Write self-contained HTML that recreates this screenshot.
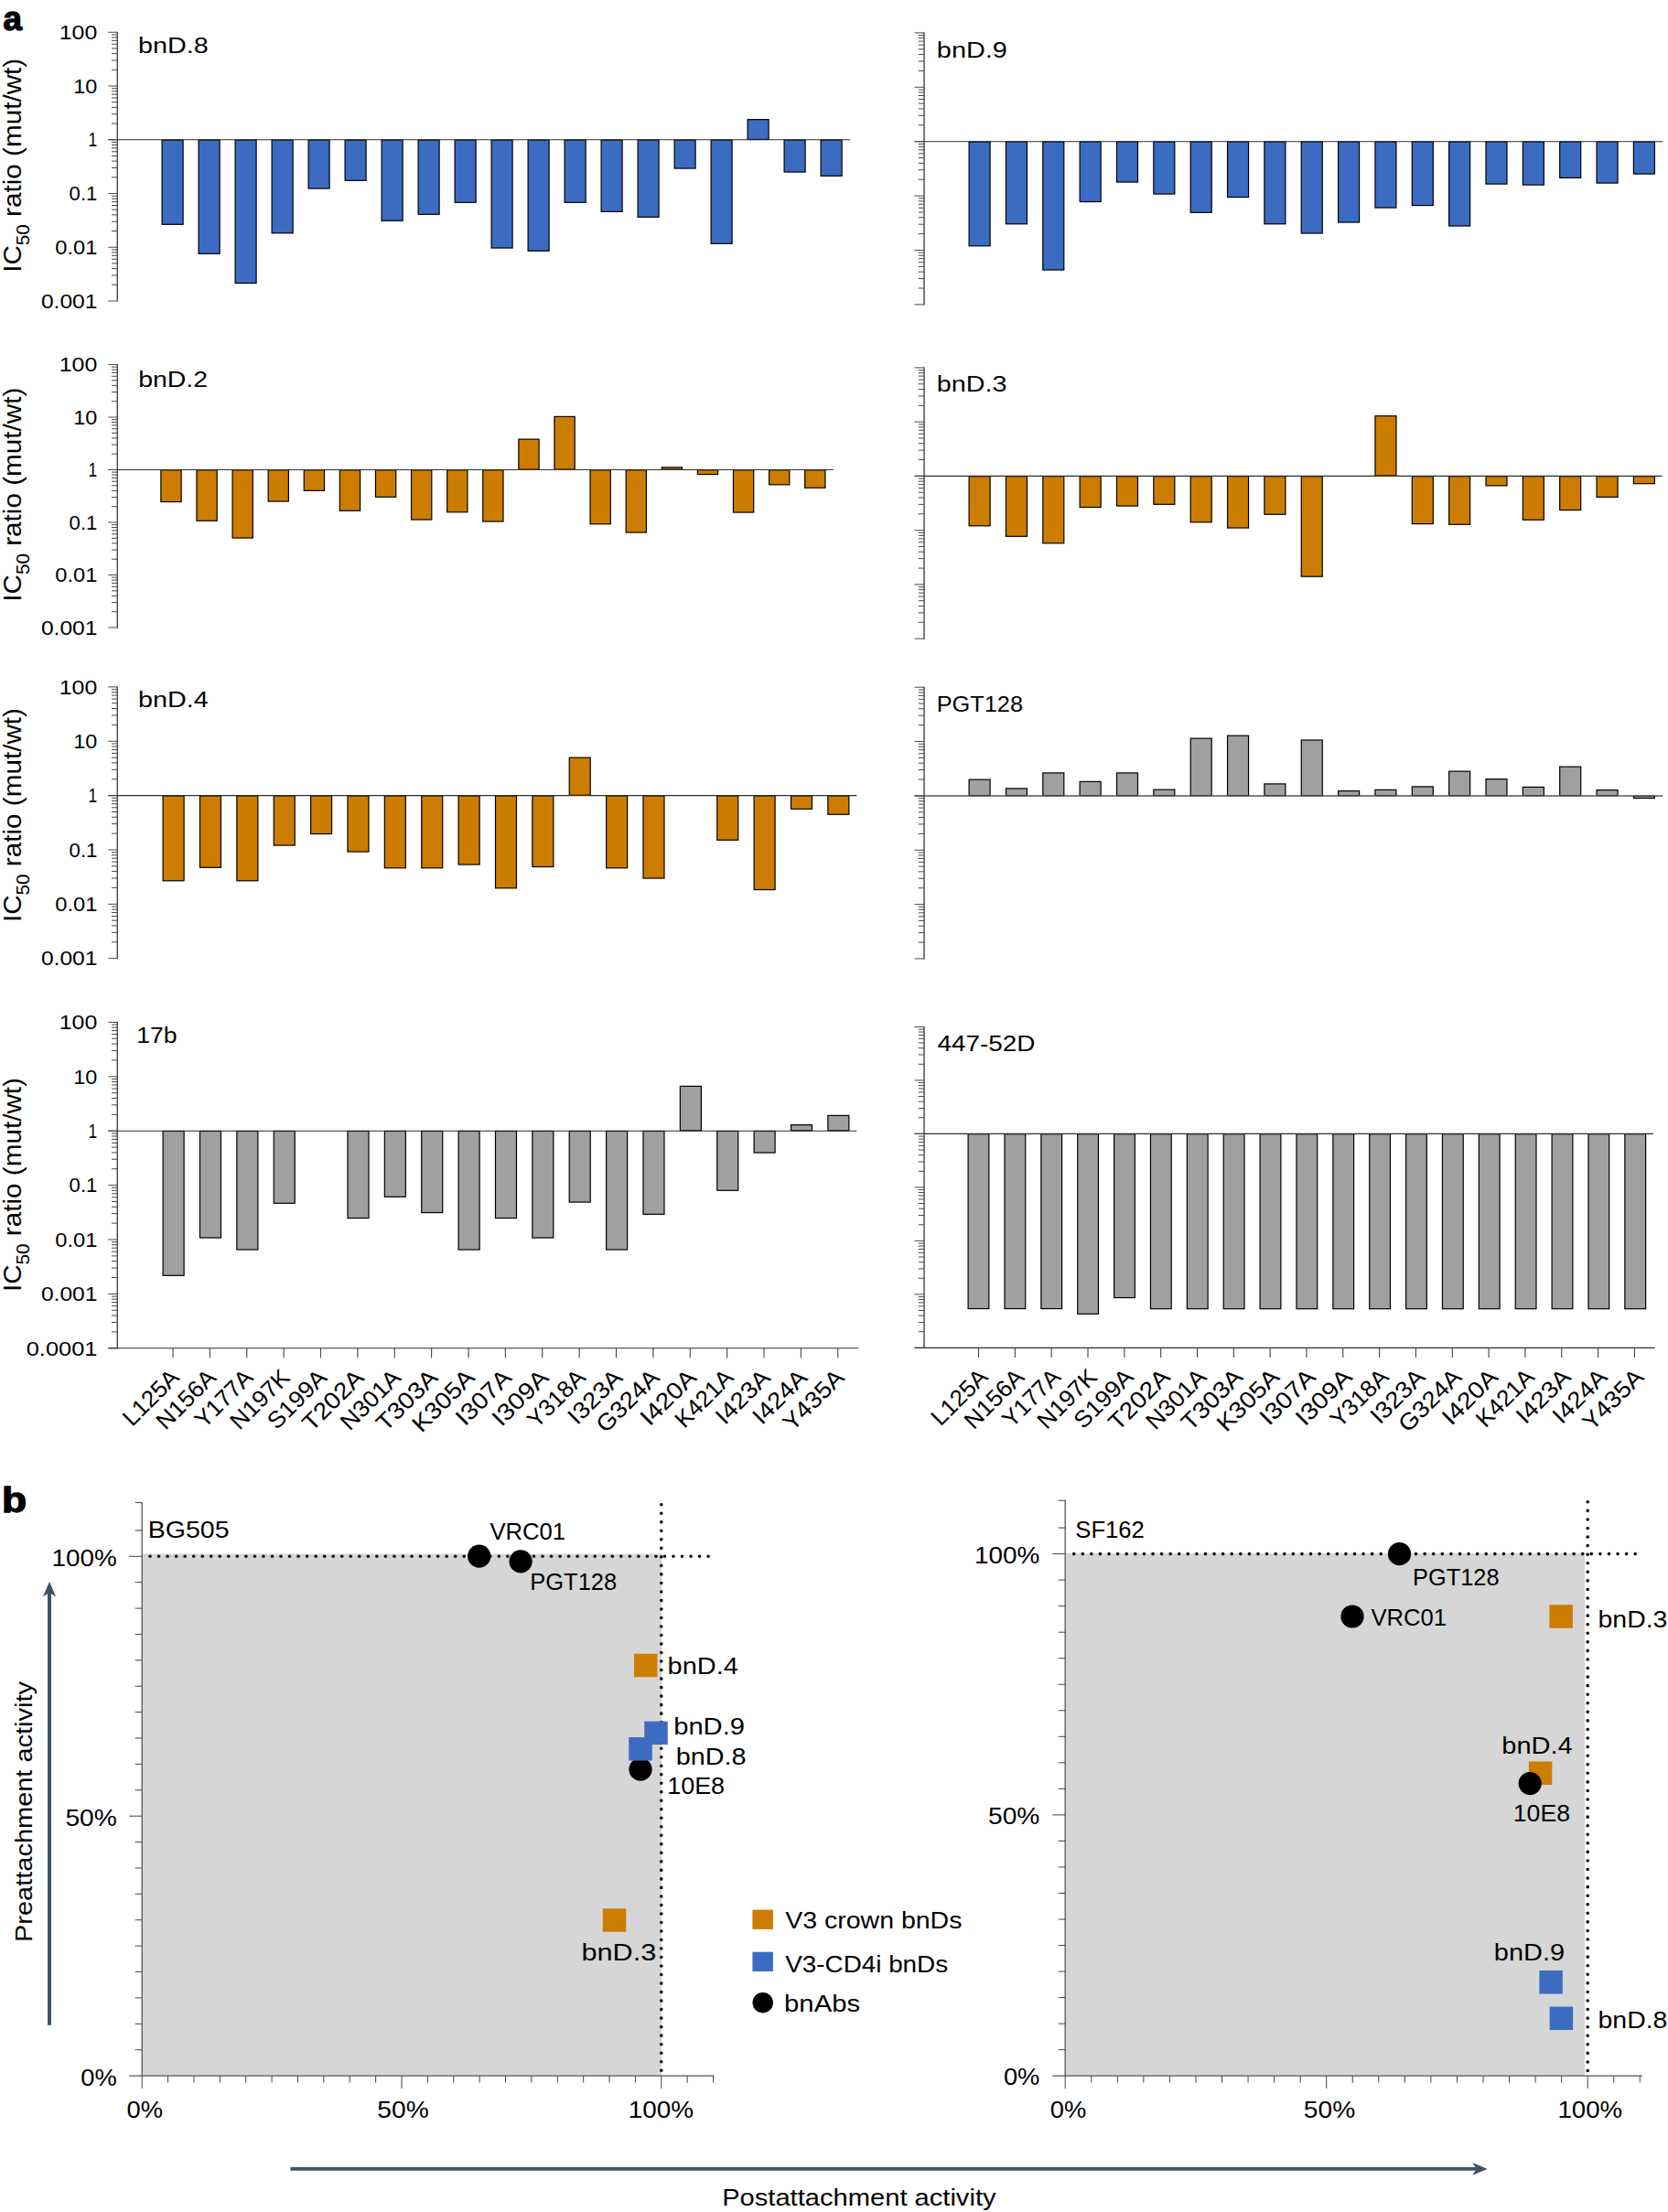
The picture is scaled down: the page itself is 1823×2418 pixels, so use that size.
<!DOCTYPE html>
<html lang="en">
<head>
<meta charset="utf-8">
<title>Figure: IC50 ratio and attachment activity</title>
<style>
html,body{margin:0;padding:0;background:#fff;}
body{width:1823px;height:2418px;}
svg{display:block;}
svg text{font-family:'Liberation Sans', sans-serif;fill:#000;}
</style>
</head>
<body>
<svg width="1823" height="2418" viewBox="0 0 1823 2418">
<rect width="1823" height="2418" fill="#fff"/>
<g id="panel-a">
<g fill="#3c6cc1" stroke="#000" stroke-width="1.2">
<rect x="177.1" y="153.05" width="23" height="92.25"/>
<rect x="217.1" y="153.05" width="23" height="124.25"/>
<rect x="257.1" y="153.05" width="23" height="156.5"/>
<rect x="297.1" y="153.05" width="23" height="101.75"/>
<rect x="337.1" y="153.05" width="23" height="53"/>
<rect x="377.1" y="153.05" width="23" height="44.25"/>
<rect x="417.1" y="153.05" width="23" height="88.25"/>
<rect x="457.1" y="153.05" width="23" height="81.25"/>
<rect x="497.1" y="153.05" width="23" height="68.25"/>
<rect x="537.1" y="153.05" width="23" height="118"/>
<rect x="577.1" y="153.05" width="23" height="121.25"/>
<rect x="617.1" y="153.05" width="23" height="68.25"/>
<rect x="657.1" y="153.05" width="23" height="78.25"/>
<rect x="697.1" y="153.05" width="23" height="84.25"/>
<rect x="737.1" y="153.05" width="23" height="31"/>
<rect x="777.1" y="153.05" width="23" height="113.25"/>
<rect x="817.1" y="130.65" width="23" height="21.8"/>
<rect x="857.1" y="153.05" width="23" height="35"/>
<rect x="897.1" y="153.05" width="23" height="39.25"/>
</g>
<line x1="118.25" y1="152.75" x2="929" y2="152.75" stroke="#2e2e2e" stroke-width="1.15"/>
<line x1="128.25" y1="34.75" x2="128.25" y2="329.5" stroke="#2e2e2e" stroke-width="1.25"/>
<path d="M118.25 329H128.25M122 311.31H128.25M122 300.97H128.25M122 293.63H128.25M122 287.94H128.25M122 283.28H128.25M122 279.35H128.25M122 275.94H128.25M122 272.94H128.25M118.25 270.25H128.25M122 252.56H128.25M122 242.22H128.25M122 234.88H128.25M122 229.19H128.25M122 224.53H128.25M122 220.6H128.25M122 217.19H128.25M122 214.19H128.25M118.25 211.5H128.25M122 193.81H128.25M122 183.47H128.25M122 176.13H128.25M122 170.44H128.25M122 165.78H128.25M122 161.85H128.25M122 158.44H128.25M122 155.44H128.25M118.25 152.75H128.25M122 135.06H128.25M122 124.72H128.25M122 117.38H128.25M122 111.69H128.25M122 107.03H128.25M122 103.1H128.25M122 99.69H128.25M122 96.69H128.25M118.25 94H128.25M122 76.31H128.25M122 65.97H128.25M122 58.63H128.25M122 52.94H128.25M122 48.28H128.25M122 44.35H128.25M122 40.94H128.25M122 37.94H128.25M118.25 35.25H128.25" stroke="#484848" stroke-width="1" fill="none"/>
<text x="44.92" y="336.7" font-size="21.4" textLength="61.55" lengthAdjust="spacingAndGlyphs">0.001</text>
<text x="60.35" y="277.95" font-size="21.4" textLength="46.04" lengthAdjust="spacingAndGlyphs">0.01</text>
<text x="75.62" y="219.2" font-size="21.4" textLength="30.68" lengthAdjust="spacingAndGlyphs">0.1</text>
<text x="96.39" y="160.45" font-size="21.4" textLength="9.72" lengthAdjust="spacingAndGlyphs">1</text>
<text x="80.15" y="101.7" font-size="21.4" textLength="26.03" lengthAdjust="spacingAndGlyphs">10</text>
<text x="64.73" y="42.95" font-size="21.4" textLength="41.53" lengthAdjust="spacingAndGlyphs">100</text>
<text x="151.13" y="57.5" font-size="24.4" textLength="76.62" lengthAdjust="spacingAndGlyphs">bnD.8</text>
<g fill="#3c6cc1" stroke="#000" stroke-width="1.2">
<rect x="1059.1" y="155" width="23" height="113.8"/>
<rect x="1099.45" y="155" width="23" height="89.8"/>
<rect x="1139.8" y="155" width="23" height="140.05"/>
<rect x="1180.15" y="155" width="23" height="65.55"/>
<rect x="1220.5" y="155" width="23" height="44.05"/>
<rect x="1260.85" y="155" width="23" height="57.05"/>
<rect x="1301.2" y="155" width="23" height="77.3"/>
<rect x="1341.55" y="155" width="23" height="60.55"/>
<rect x="1381.9" y="155" width="23" height="89.8"/>
<rect x="1422.25" y="155" width="23" height="100"/>
<rect x="1462.6" y="155" width="23" height="88"/>
<rect x="1502.95" y="155" width="23" height="72.05"/>
<rect x="1543.3" y="155" width="23" height="69.55"/>
<rect x="1583.65" y="155" width="23" height="92"/>
<rect x="1624" y="155" width="23" height="46.1"/>
<rect x="1664.35" y="155" width="23" height="47.1"/>
<rect x="1704.7" y="155" width="23" height="39.4"/>
<rect x="1745.05" y="155" width="23" height="45.1"/>
<rect x="1785.4" y="155" width="23" height="35.1"/>
</g>
<line x1="999.5" y1="154.7" x2="1817.3" y2="154.7" stroke="#2e2e2e" stroke-width="1.15"/>
<line x1="1010" y1="35.4" x2="1010" y2="333.4" stroke="#2e2e2e" stroke-width="1.25"/>
<path d="M999.5 332.9H1010M1003.75 315.02H1010M1003.75 304.56H1010M1003.75 297.14H1010M1003.75 291.38H1010M1003.75 286.68H1010M1003.75 282.7H1010M1003.75 279.26H1010M1003.75 276.22H1010M999.5 273.5H1010M1003.75 255.62H1010M1003.75 245.16H1010M1003.75 237.74H1010M1003.75 231.98H1010M1003.75 227.28H1010M1003.75 223.3H1010M1003.75 219.86H1010M1003.75 216.82H1010M999.5 214.1H1010M1003.75 196.22H1010M1003.75 185.76H1010M1003.75 178.34H1010M1003.75 172.58H1010M1003.75 167.88H1010M1003.75 163.9H1010M1003.75 160.46H1010M1003.75 157.42H1010M999.5 154.7H1010M1003.75 136.82H1010M1003.75 126.36H1010M1003.75 118.94H1010M1003.75 113.18H1010M1003.75 108.48H1010M1003.75 104.5H1010M1003.75 101.06H1010M1003.75 98.02H1010M999.5 95.3H1010M1003.75 77.42H1010M1003.75 66.96H1010M1003.75 59.54H1010M1003.75 53.78H1010M1003.75 49.08H1010M1003.75 45.1H1010M1003.75 41.66H1010M1003.75 38.62H1010M999.5 35.9H1010" stroke="#484848" stroke-width="1" fill="none"/>
<text x="1023.87" y="62.5" font-size="24.4" textLength="77.03" lengthAdjust="spacingAndGlyphs">bnD.9</text>
<g fill="#cc7d00" stroke="#000" stroke-width="1.2">
<rect x="175.85" y="513.8" width="22.25" height="34.75"/>
<rect x="214.95" y="513.8" width="22.25" height="55.5"/>
<rect x="254.05" y="513.8" width="22.25" height="74.25"/>
<rect x="293.15" y="513.8" width="22.25" height="34.25"/>
<rect x="332.25" y="513.8" width="22.25" height="22.5"/>
<rect x="371.35" y="513.8" width="22.25" height="44.5"/>
<rect x="410.45" y="513.8" width="22.25" height="29.5"/>
<rect x="449.55" y="513.8" width="22.25" height="54.25"/>
<rect x="488.65" y="513.8" width="22.25" height="46"/>
<rect x="527.75" y="513.8" width="22.25" height="56.25"/>
<rect x="566.85" y="480.15" width="22.25" height="33.05"/>
<rect x="605.95" y="455.4" width="22.25" height="57.8"/>
<rect x="645.05" y="513.8" width="22.25" height="59"/>
<rect x="684.15" y="513.8" width="22.25" height="68.25"/>
<rect x="723.25" y="510.9" width="22.25" height="2.3"/>
<rect x="762.35" y="513.8" width="22.25" height="4.75"/>
<rect x="801.45" y="513.8" width="22.25" height="46.25"/>
<rect x="840.55" y="513.8" width="22.25" height="16"/>
<rect x="879.65" y="513.8" width="22.25" height="19.5"/>
</g>
<line x1="118.25" y1="513.5" x2="910.75" y2="513.5" stroke="#2e2e2e" stroke-width="1.15"/>
<line x1="128.25" y1="398" x2="128.25" y2="686.5" stroke="#2e2e2e" stroke-width="1.25"/>
<path d="M118.25 686H128.25M122 668.69H128.25M122 658.57H128.25M122 651.38H128.25M122 645.81H128.25M122 641.26H128.25M122 637.41H128.25M122 634.07H128.25M122 631.13H128.25M118.25 628.5H128.25M122 611.19H128.25M122 601.07H128.25M122 593.88H128.25M122 588.31H128.25M122 583.76H128.25M122 579.91H128.25M122 576.57H128.25M122 573.63H128.25M118.25 571H128.25M122 553.69H128.25M122 543.57H128.25M122 536.38H128.25M122 530.81H128.25M122 526.26H128.25M122 522.41H128.25M122 519.07H128.25M122 516.13H128.25M118.25 513.5H128.25M122 496.19H128.25M122 486.07H128.25M122 478.88H128.25M122 473.31H128.25M122 468.76H128.25M122 464.91H128.25M122 461.57H128.25M122 458.63H128.25M118.25 456H128.25M122 438.69H128.25M122 428.57H128.25M122 421.38H128.25M122 415.81H128.25M122 411.26H128.25M122 407.41H128.25M122 404.07H128.25M122 401.13H128.25M118.25 398.5H128.25" stroke="#484848" stroke-width="1" fill="none"/>
<text x="44.92" y="693.7" font-size="21.4" textLength="61.55" lengthAdjust="spacingAndGlyphs">0.001</text>
<text x="60.35" y="636.2" font-size="21.4" textLength="46.04" lengthAdjust="spacingAndGlyphs">0.01</text>
<text x="75.62" y="578.7" font-size="21.4" textLength="30.68" lengthAdjust="spacingAndGlyphs">0.1</text>
<text x="96.39" y="521.2" font-size="21.4" textLength="9.72" lengthAdjust="spacingAndGlyphs">1</text>
<text x="80.15" y="463.7" font-size="21.4" textLength="26.03" lengthAdjust="spacingAndGlyphs">10</text>
<text x="64.73" y="406.2" font-size="21.4" textLength="41.53" lengthAdjust="spacingAndGlyphs">100</text>
<text x="151.15" y="422.5" font-size="24.4" textLength="75.87" lengthAdjust="spacingAndGlyphs">bnD.2</text>
<g fill="#cc7d00" stroke="#000" stroke-width="1.2">
<rect x="1059.1" y="520.7" width="23" height="54.1"/>
<rect x="1099.45" y="520.7" width="23" height="65.6"/>
<rect x="1139.8" y="520.7" width="23" height="73.1"/>
<rect x="1180.15" y="520.7" width="23" height="33.85"/>
<rect x="1220.5" y="520.7" width="23" height="32.35"/>
<rect x="1260.85" y="520.7" width="23" height="30.6"/>
<rect x="1301.2" y="520.7" width="23" height="50.1"/>
<rect x="1341.55" y="520.7" width="23" height="56.35"/>
<rect x="1381.9" y="520.7" width="23" height="41.6"/>
<rect x="1422.25" y="520.7" width="23" height="109.5"/>
<rect x="1502.95" y="454.7" width="23" height="65.4"/>
<rect x="1543.3" y="520.7" width="23" height="51.9"/>
<rect x="1583.65" y="520.7" width="23" height="52.6"/>
<rect x="1624" y="520.7" width="23" height="10.2"/>
<rect x="1664.35" y="520.7" width="23" height="47.6"/>
<rect x="1704.7" y="520.7" width="23" height="36.9"/>
<rect x="1745.05" y="520.7" width="23" height="22.7"/>
<rect x="1785.4" y="520.7" width="23" height="8"/>
</g>
<line x1="999.5" y1="520.4" x2="1816.5" y2="520.4" stroke="#2e2e2e" stroke-width="1.15"/>
<line x1="1010" y1="401.4" x2="1010" y2="698.65" stroke="#2e2e2e" stroke-width="1.25"/>
<path d="M999.5 698.15H1010M1003.75 680.31H1010M1003.75 669.88H1010M1003.75 662.48H1010M1003.75 656.74H1010M1003.75 652.04H1010M1003.75 648.08H1010M1003.75 644.64H1010M1003.75 641.61H1010M999.5 638.9H1010M1003.75 621.06H1010M1003.75 610.63H1010M1003.75 603.23H1010M1003.75 597.49H1010M1003.75 592.79H1010M1003.75 588.83H1010M1003.75 585.39H1010M1003.75 582.36H1010M999.5 579.65H1010M1003.75 561.81H1010M1003.75 551.38H1010M1003.75 543.98H1010M1003.75 538.24H1010M1003.75 533.54H1010M1003.75 529.58H1010M1003.75 526.14H1010M1003.75 523.11H1010M999.5 520.4H1010M1003.75 502.56H1010M1003.75 492.13H1010M1003.75 484.73H1010M1003.75 478.99H1010M1003.75 474.29H1010M1003.75 470.33H1010M1003.75 466.89H1010M1003.75 463.86H1010M999.5 461.15H1010M1003.75 443.31H1010M1003.75 432.88H1010M1003.75 425.48H1010M1003.75 419.74H1010M1003.75 415.04H1010M1003.75 411.08H1010M1003.75 407.64H1010M1003.75 404.61H1010M999.5 401.9H1010" stroke="#484848" stroke-width="1" fill="none"/>
<text x="1023.88" y="428" font-size="24.4" textLength="76.62" lengthAdjust="spacingAndGlyphs">bnD.3</text>
<g fill="#cc7d00" stroke="#000" stroke-width="1.2">
<rect x="178.1" y="869.9" width="23" height="92.9"/>
<rect x="218.47" y="869.9" width="23" height="78.4"/>
<rect x="258.85" y="869.9" width="23" height="92.9"/>
<rect x="299.23" y="869.9" width="23" height="54.15"/>
<rect x="339.6" y="869.9" width="23" height="41.65"/>
<rect x="379.98" y="869.9" width="23" height="61.15"/>
<rect x="420.35" y="869.9" width="23" height="78.9"/>
<rect x="460.73" y="869.9" width="23" height="78.9"/>
<rect x="501.1" y="869.9" width="23" height="75.15"/>
<rect x="541.48" y="869.9" width="23" height="100.9"/>
<rect x="581.85" y="869.9" width="23" height="77.65"/>
<rect x="622.23" y="828.15" width="23" height="41.15"/>
<rect x="662.6" y="869.9" width="23" height="78.9"/>
<rect x="702.98" y="869.9" width="23" height="90.15"/>
<rect x="783.73" y="869.9" width="23" height="48.4"/>
<rect x="824.1" y="869.9" width="23" height="102.65"/>
<rect x="864.48" y="869.9" width="23" height="14.4"/>
<rect x="904.85" y="869.9" width="23" height="20.4"/>
</g>
<line x1="118.25" y1="869.6" x2="936.25" y2="869.6" stroke="#2e2e2e" stroke-width="1.15"/>
<line x1="128.25" y1="750.4" x2="128.25" y2="1048.15" stroke="#2e2e2e" stroke-width="1.25"/>
<path d="M118.25 1047.65H128.25M122 1029.78H128.25M122 1019.33H128.25M122 1011.92H128.25M122 1006.17H128.25M122 1001.47H128.25M122 997.49H128.25M122 994.05H128.25M122 991.02H128.25M118.25 988.3H128.25M122 970.43H128.25M122 959.98H128.25M122 952.57H128.25M122 946.82H128.25M122 942.12H128.25M122 938.14H128.25M122 934.7H128.25M122 931.67H128.25M118.25 928.95H128.25M122 911.08H128.25M122 900.63H128.25M122 893.22H128.25M122 887.47H128.25M122 882.77H128.25M122 878.79H128.25M122 875.35H128.25M122 872.32H128.25M118.25 869.6H128.25M122 851.73H128.25M122 841.28H128.25M122 833.87H128.25M122 828.12H128.25M122 823.42H128.25M122 819.44H128.25M122 816H128.25M122 812.97H128.25M118.25 810.25H128.25M122 792.38H128.25M122 781.93H128.25M122 774.52H128.25M122 768.77H128.25M122 764.07H128.25M122 760.09H128.25M122 756.65H128.25M122 753.62H128.25M118.25 750.9H128.25" stroke="#484848" stroke-width="1" fill="none"/>
<text x="44.92" y="1055.35" font-size="21.4" textLength="61.55" lengthAdjust="spacingAndGlyphs">0.001</text>
<text x="60.35" y="996" font-size="21.4" textLength="46.04" lengthAdjust="spacingAndGlyphs">0.01</text>
<text x="75.62" y="936.65" font-size="21.4" textLength="30.68" lengthAdjust="spacingAndGlyphs">0.1</text>
<text x="96.39" y="877.3" font-size="21.4" textLength="9.72" lengthAdjust="spacingAndGlyphs">1</text>
<text x="80.15" y="817.95" font-size="21.4" textLength="26.03" lengthAdjust="spacingAndGlyphs">10</text>
<text x="64.73" y="758.6" font-size="21.4" textLength="41.53" lengthAdjust="spacingAndGlyphs">100</text>
<text x="151.13" y="773" font-size="24.4" textLength="76.58" lengthAdjust="spacingAndGlyphs">bnD.4</text>
<g fill="#a0a0a0" stroke="#000" stroke-width="1.2">
<rect x="1059.1" y="852.15" width="23" height="17.45"/>
<rect x="1099.45" y="861.9" width="23" height="7.7"/>
<rect x="1139.8" y="844.9" width="23" height="24.7"/>
<rect x="1180.15" y="854.4" width="23" height="15.2"/>
<rect x="1220.5" y="844.9" width="23" height="24.7"/>
<rect x="1260.85" y="863.15" width="23" height="6.45"/>
<rect x="1301.2" y="807.15" width="23" height="62.45"/>
<rect x="1341.55" y="804.15" width="23" height="65.45"/>
<rect x="1381.9" y="856.9" width="23" height="12.7"/>
<rect x="1422.25" y="809" width="23" height="60.6"/>
<rect x="1462.6" y="864.6" width="23" height="5"/>
<rect x="1502.95" y="863.4" width="23" height="6.2"/>
<rect x="1543.3" y="859.9" width="23" height="9.7"/>
<rect x="1583.65" y="843.15" width="23" height="26.45"/>
<rect x="1624" y="851.6" width="23" height="18"/>
<rect x="1664.35" y="860.4" width="23" height="9.2"/>
<rect x="1704.7" y="838.15" width="23" height="31.45"/>
<rect x="1745.05" y="863.6" width="23" height="6"/>
<rect x="1785.4" y="870.2" width="23" height="2.3"/>
</g>
<line x1="999.5" y1="869.9" x2="1817.3" y2="869.9" stroke="#555" stroke-width="1.55"/>
<line x1="1010" y1="750.7" x2="1010" y2="1048.45" stroke="#2e2e2e" stroke-width="1.25"/>
<path d="M999.5 1047.95H1010M1003.75 1030.08H1010M1003.75 1019.63H1010M1003.75 1012.22H1010M1003.75 1006.47H1010M1003.75 1001.77H1010M1003.75 997.79H1010M1003.75 994.35H1010M1003.75 991.32H1010M999.5 988.6H1010M1003.75 970.73H1010M1003.75 960.28H1010M1003.75 952.87H1010M1003.75 947.12H1010M1003.75 942.42H1010M1003.75 938.44H1010M1003.75 935H1010M1003.75 931.97H1010M999.5 929.25H1010M1003.75 911.38H1010M1003.75 900.93H1010M1003.75 893.52H1010M1003.75 887.77H1010M1003.75 883.07H1010M1003.75 879.09H1010M1003.75 875.65H1010M1003.75 872.62H1010M999.5 869.9H1010M1003.75 852.03H1010M1003.75 841.58H1010M1003.75 834.17H1010M1003.75 828.42H1010M1003.75 823.72H1010M1003.75 819.74H1010M1003.75 816.3H1010M1003.75 813.27H1010M999.5 810.55H1010M1003.75 792.68H1010M1003.75 782.23H1010M1003.75 774.82H1010M1003.75 769.07H1010M1003.75 764.37H1010M1003.75 760.39H1010M1003.75 756.95H1010M1003.75 753.92H1010M999.5 751.2H1010" stroke="#484848" stroke-width="1" fill="none"/>
<text x="1023.73" y="778" font-size="24.4" textLength="94.27" lengthAdjust="spacingAndGlyphs">PGT128</text>
<g fill="#a0a0a0" stroke="#000" stroke-width="1.2">
<rect x="178.1" y="1236.5" width="23" height="157.8"/>
<rect x="218.47" y="1236.5" width="23" height="116.55"/>
<rect x="258.85" y="1236.5" width="23" height="129.55"/>
<rect x="299.23" y="1236.5" width="23" height="78.8"/>
<rect x="379.98" y="1236.5" width="23" height="95.05"/>
<rect x="420.35" y="1236.5" width="23" height="71.8"/>
<rect x="460.73" y="1236.5" width="23" height="89.05"/>
<rect x="501.1" y="1236.5" width="23" height="129.55"/>
<rect x="541.48" y="1236.5" width="23" height="95.05"/>
<rect x="581.85" y="1236.5" width="23" height="116.55"/>
<rect x="622.23" y="1236.5" width="23" height="77.55"/>
<rect x="662.6" y="1236.5" width="23" height="129.55"/>
<rect x="702.98" y="1236.5" width="23" height="90.8"/>
<rect x="743.35" y="1187.4" width="23" height="48.5"/>
<rect x="783.73" y="1236.5" width="23" height="64.8"/>
<rect x="824.1" y="1236.5" width="23" height="23.55"/>
<rect x="864.48" y="1229.65" width="23" height="6.25"/>
<rect x="904.85" y="1219.4" width="23" height="16.5"/>
</g>
<line x1="118.25" y1="1236.2" x2="936.25" y2="1236.2" stroke="#2e2e2e" stroke-width="1.15"/>
<line x1="128.25" y1="1116.9" x2="128.25" y2="1474.3" stroke="#2e2e2e" stroke-width="1.25"/>
<path d="M118.25 1473.8H128.25M122 1455.92H128.25M122 1445.46H128.25M122 1438.04H128.25M122 1432.28H128.25M122 1427.58H128.25M122 1423.6H128.25M122 1420.16H128.25M122 1417.12H128.25M118.25 1414.4H128.25M122 1396.52H128.25M122 1386.06H128.25M122 1378.64H128.25M122 1372.88H128.25M122 1368.18H128.25M122 1364.2H128.25M122 1360.76H128.25M122 1357.72H128.25M118.25 1355H128.25M122 1337.12H128.25M122 1326.66H128.25M122 1319.24H128.25M122 1313.48H128.25M122 1308.78H128.25M122 1304.8H128.25M122 1301.36H128.25M122 1298.32H128.25M118.25 1295.6H128.25M122 1277.72H128.25M122 1267.26H128.25M122 1259.84H128.25M122 1254.08H128.25M122 1249.38H128.25M122 1245.4H128.25M122 1241.96H128.25M122 1238.92H128.25M118.25 1236.2H128.25M122 1218.32H128.25M122 1207.86H128.25M122 1200.44H128.25M122 1194.68H128.25M122 1189.98H128.25M122 1186H128.25M122 1182.56H128.25M122 1179.52H128.25M118.25 1176.8H128.25M122 1158.92H128.25M122 1148.46H128.25M122 1141.04H128.25M122 1135.28H128.25M122 1130.58H128.25M122 1126.6H128.25M122 1123.16H128.25M122 1120.12H128.25M118.25 1117.4H128.25" stroke="#484848" stroke-width="1" fill="none"/>
<text x="28.78" y="1481.5" font-size="21.4" textLength="77.62" lengthAdjust="spacingAndGlyphs">0.0001</text>
<text x="44.92" y="1422.1" font-size="21.4" textLength="61.55" lengthAdjust="spacingAndGlyphs">0.001</text>
<text x="60.35" y="1362.7" font-size="21.4" textLength="46.04" lengthAdjust="spacingAndGlyphs">0.01</text>
<text x="75.62" y="1303.3" font-size="21.4" textLength="30.68" lengthAdjust="spacingAndGlyphs">0.1</text>
<text x="96.39" y="1243.9" font-size="21.4" textLength="9.72" lengthAdjust="spacingAndGlyphs">1</text>
<text x="80.15" y="1184.5" font-size="21.4" textLength="26.03" lengthAdjust="spacingAndGlyphs">10</text>
<text x="64.73" y="1125.1" font-size="21.4" textLength="41.53" lengthAdjust="spacingAndGlyphs">100</text>
<text x="149.25" y="1139.5" font-size="24.4" textLength="44.4" lengthAdjust="spacingAndGlyphs">17b</text>
<line x1="118.25" y1="1473.8" x2="938.25" y2="1473.8" stroke="#2e2e2e" stroke-width="1.1"/>
<path d="M189 1473.8V1484.3M229.38 1473.8V1484.3M269.75 1473.8V1484.3M310.12 1473.8V1484.3M350.5 1473.8V1484.3M390.88 1473.8V1484.3M431.25 1473.8V1484.3M471.62 1473.8V1484.3M512 1473.8V1484.3M552.38 1473.8V1484.3M592.75 1473.8V1484.3M633.12 1473.8V1484.3M673.5 1473.8V1484.3M713.88 1473.8V1484.3M754.25 1473.8V1484.3M794.62 1473.8V1484.3M835 1473.8V1484.3M875.38 1473.8V1484.3M915.75 1473.8V1484.3" stroke="#444" stroke-width="1.1" fill="none"/>
<g fill="#a0a0a0" stroke="#000" stroke-width="1.2">
<rect x="1058.1" y="1239.7" width="22.75" height="190.85"/>
<rect x="1097.97" y="1239.7" width="22.75" height="190.85"/>
<rect x="1137.85" y="1239.7" width="22.75" height="190.85"/>
<rect x="1177.72" y="1239.7" width="22.75" height="196.6"/>
<rect x="1217.6" y="1239.7" width="22.75" height="178.85"/>
<rect x="1257.47" y="1239.7" width="22.75" height="191"/>
<rect x="1297.35" y="1239.7" width="22.75" height="191"/>
<rect x="1337.22" y="1239.7" width="22.75" height="191"/>
<rect x="1377.1" y="1239.7" width="22.75" height="191"/>
<rect x="1416.97" y="1239.7" width="22.75" height="191"/>
<rect x="1456.85" y="1239.7" width="22.75" height="191"/>
<rect x="1496.72" y="1239.7" width="22.75" height="191"/>
<rect x="1536.6" y="1239.7" width="22.75" height="191"/>
<rect x="1576.47" y="1239.7" width="22.75" height="191"/>
<rect x="1616.35" y="1239.7" width="22.75" height="191"/>
<rect x="1656.22" y="1239.7" width="22.75" height="191"/>
<rect x="1696.1" y="1239.7" width="22.75" height="191"/>
<rect x="1735.97" y="1239.7" width="22.75" height="191"/>
<rect x="1775.85" y="1239.7" width="22.75" height="191"/>
</g>
<line x1="999.5" y1="1239.4" x2="1807" y2="1239.4" stroke="#2e2e2e" stroke-width="1.15"/>
<line x1="1010" y1="1121.9" x2="1010" y2="1473.9" stroke="#2e2e2e" stroke-width="1.25"/>
<path d="M999.5 1473.4H1010M1003.75 1455.79H1010M1003.75 1445.49H1010M1003.75 1438.18H1010M1003.75 1432.51H1010M1003.75 1427.88H1010M1003.75 1423.96H1010M1003.75 1420.57H1010M1003.75 1417.58H1010M999.5 1414.9H1010M1003.75 1397.29H1010M1003.75 1386.99H1010M1003.75 1379.68H1010M1003.75 1374.01H1010M1003.75 1369.38H1010M1003.75 1365.46H1010M1003.75 1362.07H1010M1003.75 1359.08H1010M999.5 1356.4H1010M1003.75 1338.79H1010M1003.75 1328.49H1010M1003.75 1321.18H1010M1003.75 1315.51H1010M1003.75 1310.88H1010M1003.75 1306.96H1010M1003.75 1303.57H1010M1003.75 1300.58H1010M999.5 1297.9H1010M1003.75 1280.29H1010M1003.75 1269.99H1010M1003.75 1262.68H1010M1003.75 1257.01H1010M1003.75 1252.38H1010M1003.75 1248.46H1010M1003.75 1245.07H1010M1003.75 1242.08H1010M999.5 1239.4H1010M1003.75 1221.79H1010M1003.75 1211.49H1010M1003.75 1204.18H1010M1003.75 1198.51H1010M1003.75 1193.88H1010M1003.75 1189.96H1010M1003.75 1186.57H1010M1003.75 1183.58H1010M999.5 1180.9H1010M1003.75 1163.29H1010M1003.75 1152.99H1010M1003.75 1145.68H1010M1003.75 1140.01H1010M1003.75 1135.38H1010M1003.75 1131.46H1010M1003.75 1128.07H1010M1003.75 1125.08H1010M999.5 1122.4H1010" stroke="#484848" stroke-width="1" fill="none"/>
<text x="1024.44" y="1149.25" font-size="24.4" textLength="106.84" lengthAdjust="spacingAndGlyphs">447-52D</text>
<line x1="999.5" y1="1473.4" x2="1808.5" y2="1473.4" stroke="#2e2e2e" stroke-width="1.1"/>
<path d="M1069.5 1473.4V1483.9M1109.33 1473.4V1483.9M1149.16 1473.4V1483.9M1188.99 1473.4V1483.9M1228.82 1473.4V1483.9M1268.65 1473.4V1483.9M1308.48 1473.4V1483.9M1348.31 1473.4V1483.9M1388.14 1473.4V1483.9M1427.97 1473.4V1483.9M1467.8 1473.4V1483.9M1507.63 1473.4V1483.9M1547.46 1473.4V1483.9M1587.29 1473.4V1483.9M1627.12 1473.4V1483.9M1666.95 1473.4V1483.9M1706.78 1473.4V1483.9M1746.61 1473.4V1483.9M1786.44 1473.4V1483.9" stroke="#444" stroke-width="1.1" fill="none"/>
<text transform="translate(197.3 1507.4) rotate(-45)" text-anchor="end" font-size="25.6" textLength="74.81" lengthAdjust="spacingAndGlyphs">L125A</text>
<text transform="translate(237.68 1507.4) rotate(-45)" text-anchor="end" font-size="25.6" textLength="80.06" lengthAdjust="spacingAndGlyphs">N156A</text>
<text transform="translate(278.05 1507.4) rotate(-45)" text-anchor="end" font-size="25.6" textLength="77.65" lengthAdjust="spacingAndGlyphs">Y177A</text>
<text transform="translate(318.43 1507.4) rotate(-45)" text-anchor="end" font-size="25.6" textLength="80.06" lengthAdjust="spacingAndGlyphs">N197K</text>
<text transform="translate(358.8 1507.4) rotate(-45)" text-anchor="end" font-size="25.6" textLength="79.65" lengthAdjust="spacingAndGlyphs">S199A</text>
<text transform="translate(399.18 1507.4) rotate(-45)" text-anchor="end" font-size="25.6" textLength="82.71" lengthAdjust="spacingAndGlyphs">T202A</text>
<text transform="translate(439.55 1507.4) rotate(-45)" text-anchor="end" font-size="25.6" textLength="81.06" lengthAdjust="spacingAndGlyphs">N301A</text>
<text transform="translate(479.93 1507.4) rotate(-45)" text-anchor="end" font-size="25.6" textLength="82.71" lengthAdjust="spacingAndGlyphs">T303A</text>
<text transform="translate(520.3 1507.4) rotate(-45)" text-anchor="end" font-size="25.6" textLength="84.15" lengthAdjust="spacingAndGlyphs">K305A</text>
<text transform="translate(560.67 1507.4) rotate(-45)" text-anchor="end" font-size="25.6" textLength="74.19" lengthAdjust="spacingAndGlyphs">I307A</text>
<text transform="translate(601.05 1507.4) rotate(-45)" text-anchor="end" font-size="25.6" textLength="75.19" lengthAdjust="spacingAndGlyphs">I309A</text>
<text transform="translate(641.42 1507.4) rotate(-45)" text-anchor="end" font-size="25.6" textLength="77.65" lengthAdjust="spacingAndGlyphs">Y318A</text>
<text transform="translate(681.8 1507.4) rotate(-45)" text-anchor="end" font-size="25.6" textLength="72.19" lengthAdjust="spacingAndGlyphs">I323A</text>
<text transform="translate(722.17 1507.4) rotate(-45)" text-anchor="end" font-size="25.6" textLength="84.99" lengthAdjust="spacingAndGlyphs">G324A</text>
<text transform="translate(762.55 1507.4) rotate(-45)" text-anchor="end" font-size="25.6" textLength="74.19" lengthAdjust="spacingAndGlyphs">I420A</text>
<text transform="translate(802.92 1507.4) rotate(-45)" text-anchor="end" font-size="25.6" textLength="77.65" lengthAdjust="spacingAndGlyphs">K421A</text>
<text transform="translate(843.3 1507.4) rotate(-45)" text-anchor="end" font-size="25.6" textLength="72.19" lengthAdjust="spacingAndGlyphs">I423A</text>
<text transform="translate(883.67 1507.4) rotate(-45)" text-anchor="end" font-size="25.6" textLength="72.19" lengthAdjust="spacingAndGlyphs">I424A</text>
<text transform="translate(924.05 1507.4) rotate(-45)" text-anchor="end" font-size="25.6" textLength="82.15" lengthAdjust="spacingAndGlyphs">Y435A</text>
<text transform="translate(1081 1506.8) rotate(-45)" text-anchor="end" font-size="25.6" textLength="74.81" lengthAdjust="spacingAndGlyphs">L125A</text>
<text transform="translate(1120.83 1506.8) rotate(-45)" text-anchor="end" font-size="25.6" textLength="80.06" lengthAdjust="spacingAndGlyphs">N156A</text>
<text transform="translate(1160.66 1506.8) rotate(-45)" text-anchor="end" font-size="25.6" textLength="77.65" lengthAdjust="spacingAndGlyphs">Y177A</text>
<text transform="translate(1200.49 1506.8) rotate(-45)" text-anchor="end" font-size="25.6" textLength="80.06" lengthAdjust="spacingAndGlyphs">N197K</text>
<text transform="translate(1240.32 1506.8) rotate(-45)" text-anchor="end" font-size="25.6" textLength="79.65" lengthAdjust="spacingAndGlyphs">S199A</text>
<text transform="translate(1280.15 1506.8) rotate(-45)" text-anchor="end" font-size="25.6" textLength="82.71" lengthAdjust="spacingAndGlyphs">T202A</text>
<text transform="translate(1319.98 1506.8) rotate(-45)" text-anchor="end" font-size="25.6" textLength="81.06" lengthAdjust="spacingAndGlyphs">N301A</text>
<text transform="translate(1359.81 1506.8) rotate(-45)" text-anchor="end" font-size="25.6" textLength="82.71" lengthAdjust="spacingAndGlyphs">T303A</text>
<text transform="translate(1399.64 1506.8) rotate(-45)" text-anchor="end" font-size="25.6" textLength="84.15" lengthAdjust="spacingAndGlyphs">K305A</text>
<text transform="translate(1439.47 1506.8) rotate(-45)" text-anchor="end" font-size="25.6" textLength="74.19" lengthAdjust="spacingAndGlyphs">I307A</text>
<text transform="translate(1479.3 1506.8) rotate(-45)" text-anchor="end" font-size="25.6" textLength="75.19" lengthAdjust="spacingAndGlyphs">I309A</text>
<text transform="translate(1519.13 1506.8) rotate(-45)" text-anchor="end" font-size="25.6" textLength="77.65" lengthAdjust="spacingAndGlyphs">Y318A</text>
<text transform="translate(1558.96 1506.8) rotate(-45)" text-anchor="end" font-size="25.6" textLength="72.19" lengthAdjust="spacingAndGlyphs">I323A</text>
<text transform="translate(1598.79 1506.8) rotate(-45)" text-anchor="end" font-size="25.6" textLength="84.99" lengthAdjust="spacingAndGlyphs">G324A</text>
<text transform="translate(1638.62 1506.8) rotate(-45)" text-anchor="end" font-size="25.6" textLength="74.19" lengthAdjust="spacingAndGlyphs">I420A</text>
<text transform="translate(1678.45 1506.8) rotate(-45)" text-anchor="end" font-size="25.6" textLength="77.65" lengthAdjust="spacingAndGlyphs">K421A</text>
<text transform="translate(1718.28 1506.8) rotate(-45)" text-anchor="end" font-size="25.6" textLength="72.19" lengthAdjust="spacingAndGlyphs">I423A</text>
<text transform="translate(1758.11 1506.8) rotate(-45)" text-anchor="end" font-size="25.6" textLength="72.19" lengthAdjust="spacingAndGlyphs">I424A</text>
<text transform="translate(1797.94 1506.8) rotate(-45)" text-anchor="end" font-size="25.6" textLength="82.15" lengthAdjust="spacingAndGlyphs">Y435A</text>
<text transform="translate(23 297.85) rotate(-90)" font-size="28" textLength="234.1" lengthAdjust="spacingAndGlyphs">IC<tspan font-size="19.5" dy="9">50</tspan><tspan dy="-9"> ratio (mut/wt)</tspan></text>
<text transform="translate(23 657.7) rotate(-90)" font-size="28" textLength="234.1" lengthAdjust="spacingAndGlyphs">IC<tspan font-size="19.5" dy="9">50</tspan><tspan dy="-9"> ratio (mut/wt)</tspan></text>
<text transform="translate(23 1008.1) rotate(-90)" font-size="28" textLength="234.1" lengthAdjust="spacingAndGlyphs">IC<tspan font-size="19.5" dy="9">50</tspan><tspan dy="-9"> ratio (mut/wt)</tspan></text>
<text transform="translate(23 1412.1) rotate(-90)" font-size="28" textLength="234.1" lengthAdjust="spacingAndGlyphs">IC<tspan font-size="19.5" dy="9">50</tspan><tspan dy="-9"> ratio (mut/wt)</tspan></text>
<text x="3.6" y="33.2" font-size="37" textLength="20.48" lengthAdjust="spacingAndGlyphs" font-weight="bold" stroke="#000" stroke-width="1.3" stroke-linejoin="round">a</text>
</g>
<g id="panel-b">
<text x="2.12" y="1652.6" font-size="39.5" textLength="27.1" lengthAdjust="spacingAndGlyphs" font-weight="bold" stroke="#000" stroke-width="1.3" stroke-linejoin="round">b</text>
<rect x="155.2" y="1698.5" width="567.8" height="570.6" fill="#d6d6d6"/>
<line x1="155.2" y1="1642.02" x2="155.2" y2="2269.6" stroke="#555" stroke-width="1.3"/>
<line x1="141.2" y1="2269.1" x2="780.5" y2="2269.1" stroke="#555" stroke-width="1.3"/>
<path d="M147.7 2240.71H155.2M147.7 2212.32H155.2M147.7 2183.93H155.2M147.7 2155.54H155.2M147.7 2127.15H155.2M147.7 2098.76H155.2M147.7 2070.37H155.2M147.7 2041.98H155.2M147.7 2013.59H155.2M141.2 1985.2H155.2M147.7 1956.81H155.2M147.7 1928.42H155.2M147.7 1900.03H155.2M147.7 1871.64H155.2M147.7 1843.25H155.2M147.7 1814.86H155.2M147.7 1786.47H155.2M147.7 1758.08H155.2M147.7 1729.69H155.2M141.2 1701.3H155.2M147.7 1672.91H155.2M147.7 1642.52H155.2M155.2 2269.1V2283.1M183.58 2269.1V2276.6M211.96 2269.1V2276.6M240.34 2269.1V2276.6M268.72 2269.1V2276.6M297.1 2269.1V2276.6M325.48 2269.1V2276.6M353.86 2269.1V2276.6M382.24 2269.1V2276.6M410.62 2269.1V2276.6M439 2269.1V2283.1M467.38 2269.1V2276.6M495.76 2269.1V2276.6M524.14 2269.1V2276.6M552.52 2269.1V2276.6M580.9 2269.1V2276.6M609.28 2269.1V2276.6M637.66 2269.1V2276.6M666.04 2269.1V2276.6M694.42 2269.1V2276.6M722.8 2269.1V2283.1M751.18 2269.1V2276.6M779.56 2269.1V2276.6" stroke="#444" stroke-width="1" fill="none"/>
<line x1="164" y1="1701.3" x2="774.12" y2="1701.3" stroke="#000" stroke-width="3.6" stroke-linecap="round" stroke-dasharray="0 9.5331"/>
<line x1="722.8" y1="1644.8" x2="722.8" y2="2263.23" stroke="#000" stroke-width="3.6" stroke-linecap="round" stroke-dasharray="0 9.5142"/>
<circle cx="523.7" cy="1701.2" r="12.6" fill="#000"/>
<circle cx="569.1" cy="1706.8" r="12.6" fill="#000"/>
<rect x="692.95" y="1807.75" width="25.5" height="25.5" fill="#cc7d00"/>
<circle cx="700" cy="1934.2" r="12.6" fill="#000"/>
<rect x="687.25" y="1899.05" width="25.5" height="25.5" fill="#3c6cc1"/>
<rect x="704.25" y="1881.65" width="25.5" height="25.5" fill="#3c6cc1"/>
<rect x="658.75" y="2086.25" width="25.5" height="25.5" fill="#cc7d00"/>
<text x="161.72" y="1681" font-size="25" textLength="88.82" lengthAdjust="spacingAndGlyphs">BG505</text>
<text x="535.47" y="1682.6" font-size="25" textLength="82.65" lengthAdjust="spacingAndGlyphs">VRC01</text>
<text x="579.37" y="1737.6" font-size="25" textLength="94.73" lengthAdjust="spacingAndGlyphs">PGT128</text>
<text x="729.52" y="1829.8" font-size="25" textLength="77.36" lengthAdjust="spacingAndGlyphs">bnD.4</text>
<text x="736.2" y="1895.8" font-size="25" textLength="77.81" lengthAdjust="spacingAndGlyphs">bnD.9</text>
<text x="738.83" y="1928.8" font-size="25" textLength="76.72" lengthAdjust="spacingAndGlyphs">bnD.8</text>
<text x="729.18" y="1961.2" font-size="25" textLength="62.91" lengthAdjust="spacingAndGlyphs">10E8</text>
<text x="635.4" y="2142.9" font-size="25" textLength="81.93" lengthAdjust="spacingAndGlyphs">bnD.3</text>
<text x="56.51" y="1711.9" font-size="25" textLength="71.2" lengthAdjust="spacingAndGlyphs">100%</text>
<text x="71.47" y="1995.8" font-size="25" textLength="56.35" lengthAdjust="spacingAndGlyphs">50%</text>
<text x="88.31" y="2279.7" font-size="25" textLength="39.46" lengthAdjust="spacingAndGlyphs">0%</text>
<text x="138.51" y="2315.3" font-size="25" textLength="39.46" lengthAdjust="spacingAndGlyphs">0%</text>
<text x="412.37" y="2315.3" font-size="25" textLength="56.35" lengthAdjust="spacingAndGlyphs">50%</text>
<text x="686.71" y="2315.3" font-size="25" textLength="71.2" lengthAdjust="spacingAndGlyphs">100%</text>
<rect x="822.4" y="2087.6" width="22.5" height="21.3" fill="#cc7d00"/>
<rect x="822.4" y="2133.7" width="22.5" height="21.3" fill="#3c6cc1"/>
<circle cx="833.7" cy="2189.2" r="11.2" fill="#000"/>
<text x="858.26" y="2107.5" font-size="25" textLength="193.17" lengthAdjust="spacingAndGlyphs">V3 crown bnDs</text>
<text x="858.26" y="2155.8" font-size="25" textLength="177.85" lengthAdjust="spacingAndGlyphs">V3-CD4i bnDs</text>
<text x="857.1" y="2198.7" font-size="25" textLength="82.94" lengthAdjust="spacingAndGlyphs">bnAbs</text>
<rect x="1164.2" y="1697.8" width="567.9" height="571.4" fill="#d6d6d6"/>
<line x1="1164.2" y1="1639.74" x2="1164.2" y2="2269.7" stroke="#555" stroke-width="1.3"/>
<line x1="1150.2" y1="2269.2" x2="1795" y2="2269.2" stroke="#555" stroke-width="1.3"/>
<path d="M1156.7 2240.67H1164.2M1156.7 2212.14H1164.2M1156.7 2183.61H1164.2M1156.7 2155.08H1164.2M1156.7 2126.55H1164.2M1156.7 2098.02H1164.2M1156.7 2069.49H1164.2M1156.7 2040.96H1164.2M1156.7 2012.43H1164.2M1150.2 1983.9H1164.2M1156.7 1955.37H1164.2M1156.7 1926.84H1164.2M1156.7 1898.31H1164.2M1156.7 1869.78H1164.2M1156.7 1841.25H1164.2M1156.7 1812.72H1164.2M1156.7 1784.19H1164.2M1156.7 1755.66H1164.2M1156.7 1727.13H1164.2M1150.2 1698.6H1164.2M1156.7 1670.07H1164.2M1156.7 1640.24H1164.2M1164.2 2269.2V2283.2M1192.75 2269.2V2276.7M1221.3 2269.2V2276.7M1249.85 2269.2V2276.7M1278.4 2269.2V2276.7M1306.95 2269.2V2276.7M1335.5 2269.2V2276.7M1364.05 2269.2V2276.7M1392.6 2269.2V2276.7M1421.15 2269.2V2276.7M1449.7 2269.2V2283.2M1478.25 2269.2V2276.7M1506.8 2269.2V2276.7M1535.35 2269.2V2276.7M1563.9 2269.2V2276.7M1592.45 2269.2V2276.7M1621 2269.2V2276.7M1649.55 2269.2V2276.7M1678.1 2269.2V2276.7M1706.65 2269.2V2276.7M1735.2 2269.2V2283.2M1763.75 2269.2V2276.7M1792.3 2269.2V2276.7" stroke="#444" stroke-width="1" fill="none"/>
<line x1="1173.7" y1="1698.6" x2="1787.22" y2="1698.6" stroke="#000" stroke-width="3.6" stroke-linecap="round" stroke-dasharray="0 9.5862"/>
<line x1="1735.2" y1="1641.8" x2="1735.2" y2="2263.53" stroke="#000" stroke-width="3.6" stroke-linecap="round" stroke-dasharray="0 9.5649"/>
<circle cx="1529.5" cy="1698.7" r="12.6" fill="#000"/>
<circle cx="1478" cy="1767" r="12.6" fill="#000"/>
<rect x="1693.45" y="1754.25" width="25.5" height="25.5" fill="#cc7d00"/>
<rect x="1670.85" y="1925.55" width="25.5" height="25.5" fill="#cc7d00"/>
<circle cx="1672.2" cy="1949.6" r="12.6" fill="#000"/>
<rect x="1682.35" y="2154.05" width="25.5" height="25.5" fill="#3c6cc1"/>
<rect x="1693.65" y="2193.55" width="25.5" height="25.5" fill="#3c6cc1"/>
<text x="1175.35" y="1681" font-size="25" textLength="75.37" lengthAdjust="spacingAndGlyphs">SF162</text>
<text x="1544.07" y="1733" font-size="25" textLength="94.42" lengthAdjust="spacingAndGlyphs">PGT128</text>
<text x="1498.47" y="1777.3" font-size="25" textLength="82.65" lengthAdjust="spacingAndGlyphs">VRC01</text>
<text x="1746.55" y="1778.9" font-size="25" textLength="75.89" lengthAdjust="spacingAndGlyphs">bnD.3</text>
<text x="1641.31" y="1917.4" font-size="25" textLength="77.46" lengthAdjust="spacingAndGlyphs">bnD.4</text>
<text x="1653.8" y="1990.9" font-size="25" textLength="62.18" lengthAdjust="spacingAndGlyphs">10E8</text>
<text x="1632.82" y="2142.5" font-size="25" textLength="77.29" lengthAdjust="spacingAndGlyphs">bnD.9</text>
<text x="1746.55" y="2217.1" font-size="25" textLength="75.89" lengthAdjust="spacingAndGlyphs">bnD.8</text>
<text x="1065.11" y="1708.8" font-size="25" textLength="71.2" lengthAdjust="spacingAndGlyphs">100%</text>
<text x="1080.07" y="1994.1" font-size="25" textLength="56.35" lengthAdjust="spacingAndGlyphs">50%</text>
<text x="1096.91" y="2279.4" font-size="25" textLength="39.46" lengthAdjust="spacingAndGlyphs">0%</text>
<text x="1147.81" y="2315.4" font-size="25" textLength="39.46" lengthAdjust="spacingAndGlyphs">0%</text>
<text x="1424.87" y="2315.4" font-size="25" textLength="56.35" lengthAdjust="spacingAndGlyphs">50%</text>
<text x="1702.42" y="2315.4" font-size="25" textLength="70.78" lengthAdjust="spacingAndGlyphs">100%</text>
<line x1="54" y1="2213.8" x2="54" y2="1739.6" stroke="#415068" stroke-width="4"/>
<path d="M54 1729L61.1 1745.6L54 1741.1L46.9 1745.6Z" fill="#415068"/>
<line x1="317.4" y1="2370.9" x2="1615.2" y2="2370.9" stroke="#415068" stroke-width="3.8"/>
<path d="M1625.7 2370.9L1609.2 2364L1613.7 2370.9L1609.2 2377.8Z" fill="#415068"/>
<text transform="translate(35.4 2123.02) rotate(-90)" font-size="25.5" textLength="285.05" lengthAdjust="spacingAndGlyphs">Preattachment activity</text>
<text x="789.17" y="2410.9" font-size="25.5" textLength="299.4" lengthAdjust="spacingAndGlyphs">Postattachment activity</text>
</g>
</svg>
</body>
</html>
